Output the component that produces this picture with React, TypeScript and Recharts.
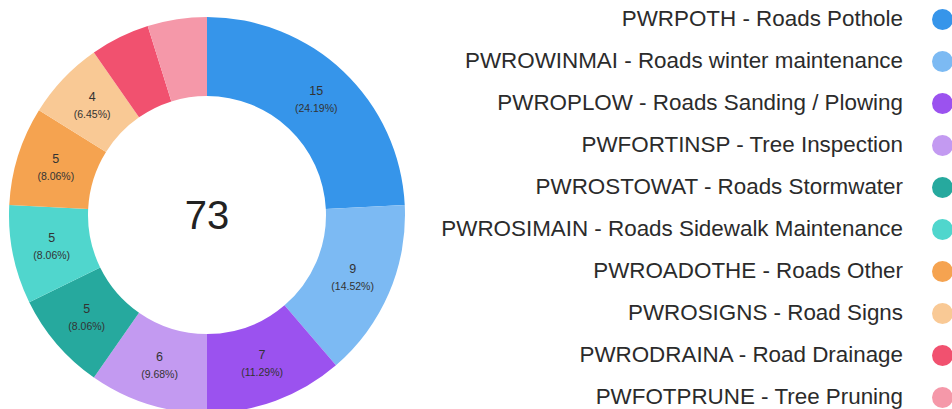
import React from 'react';
import { PieChart, Pie, Cell, Legend, Label } from 'recharts';

// categories and counts, in drawing order (clockwise from 12 o'clock)
const categories = [
  'PWRPOTH - Roads Pothole',
  'PWROWINMAI - Roads winter maintenance',
  'PWROPLOW - Roads Sanding / Plowing',
  'PWFORTINSP - Tree Inspection',
  'PWROSTOWAT - Roads Stormwater',
  'PWROSIMAIN - Roads Sidewalk Maintenance',
  'PWROADOTHE - Roads Other',
  'PWROSIGNS - Road Signs',
  'PWRODRAINA - Road Drainage',
  'PWFOTPRUNE - Tree Pruning',
];
const counts = [15, 9, 7, 6, 5, 5, 5, 4, 3, 3];
const colors = [
  '#3695ea', '#7cbaf3', '#9b52ef', '#c39af1', '#26a99e',
  '#50d6cd', '#f5a350', '#f9c995', '#f1516f', '#f598a9',
];
const centerTotal = '73';

const data = categories.map((name, i) => ({ name, value: counts[i] }));

const FONT = '"Liberation Sans", Arial, sans-serif';
const RAD = Math.PI / 180;
const CX = 207;
const CY = 215;

const renderLabel = (props: any) => {
  const { cx, cy, midAngle, innerRadius, outerRadius, value, percent } = props;
  if (percent < 0.05) return null;
  const r = (innerRadius + outerRadius) / 2;
  const x = cx + r * Math.cos(-midAngle * RAD);
  const y = cy + r * Math.sin(-midAngle * RAD);
  return (
    <g>
      <text x={x} y={y - 9} textAnchor="middle" dominantBaseline="central" fill="#333" fontSize={12.5} fontFamily={FONT}>
        {value}
      </text>
      <text x={x} y={y + 8} textAnchor="middle" dominantBaseline="central" fill="#333" fontSize={10.5} fontFamily={FONT}>
        ({(percent * 100).toFixed(2)}%)
      </text>
    </g>
  );
};

const renderCenter = (props: any) => {
  const vb = props.viewBox || {};
  const x = vb.cx ?? CX;
  const y = vb.cy ?? CY;
  return (
    <text x={x} y={y} textAnchor="middle" dominantBaseline="central" fill="#222" fontSize={40} fontFamily={FONT}>
      {centerTotal}
    </text>
  );
};

const renderLegend = () => (
  <div style={{ fontFamily: FONT }}>
    {categories.map((name, i) => (
      <div
        key={name}
        style={{ height: 42, display: 'flex', alignItems: 'center', justifyContent: 'flex-end' }}
      >
        <span style={{ fontSize: 22.4, color: '#2b2b2b', whiteSpace: 'nowrap' }}>{name}</span>
        <span
          style={{
            display: 'inline-block',
            width: 21,
            height: 21,
            borderRadius: '50%',
            background: colors[i],
            marginLeft: 29,
          }}
        />
      </div>
    ))}
  </div>
);

const App: React.FC = () => {
  return (
    <div style={{ position: 'absolute', left: 0, top: 0, width: 952, height: 409, background: '#fff' }}>
      <PieChart width={952} height={409} margin={{ top: 0, right: 0, bottom: 0, left: 0 }}>
        <Pie
          data={data}
          dataKey="value"
          nameKey="name"
          cx={CX}
          cy={CY}
          innerRadius={119}
          outerRadius={198}
          startAngle={90}
          endAngle={-270}
          stroke="none"
          label={renderLabel}
          labelLine={false}
          isAnimationActive={false}
        >
          {data.map((d, i) => (
            <Cell key={d.name} fill={colors[i]} />
          ))}
          <Label position="center" content={renderCenter} />
        </Pie>
        <Legend
          layout="vertical"
          align="right"
          verticalAlign="top"
          content={renderLegend}
          wrapperStyle={{ top: -2, right: -1, width: 560 }}
        />
      </PieChart>
    </div>
  );
};

export default App;
